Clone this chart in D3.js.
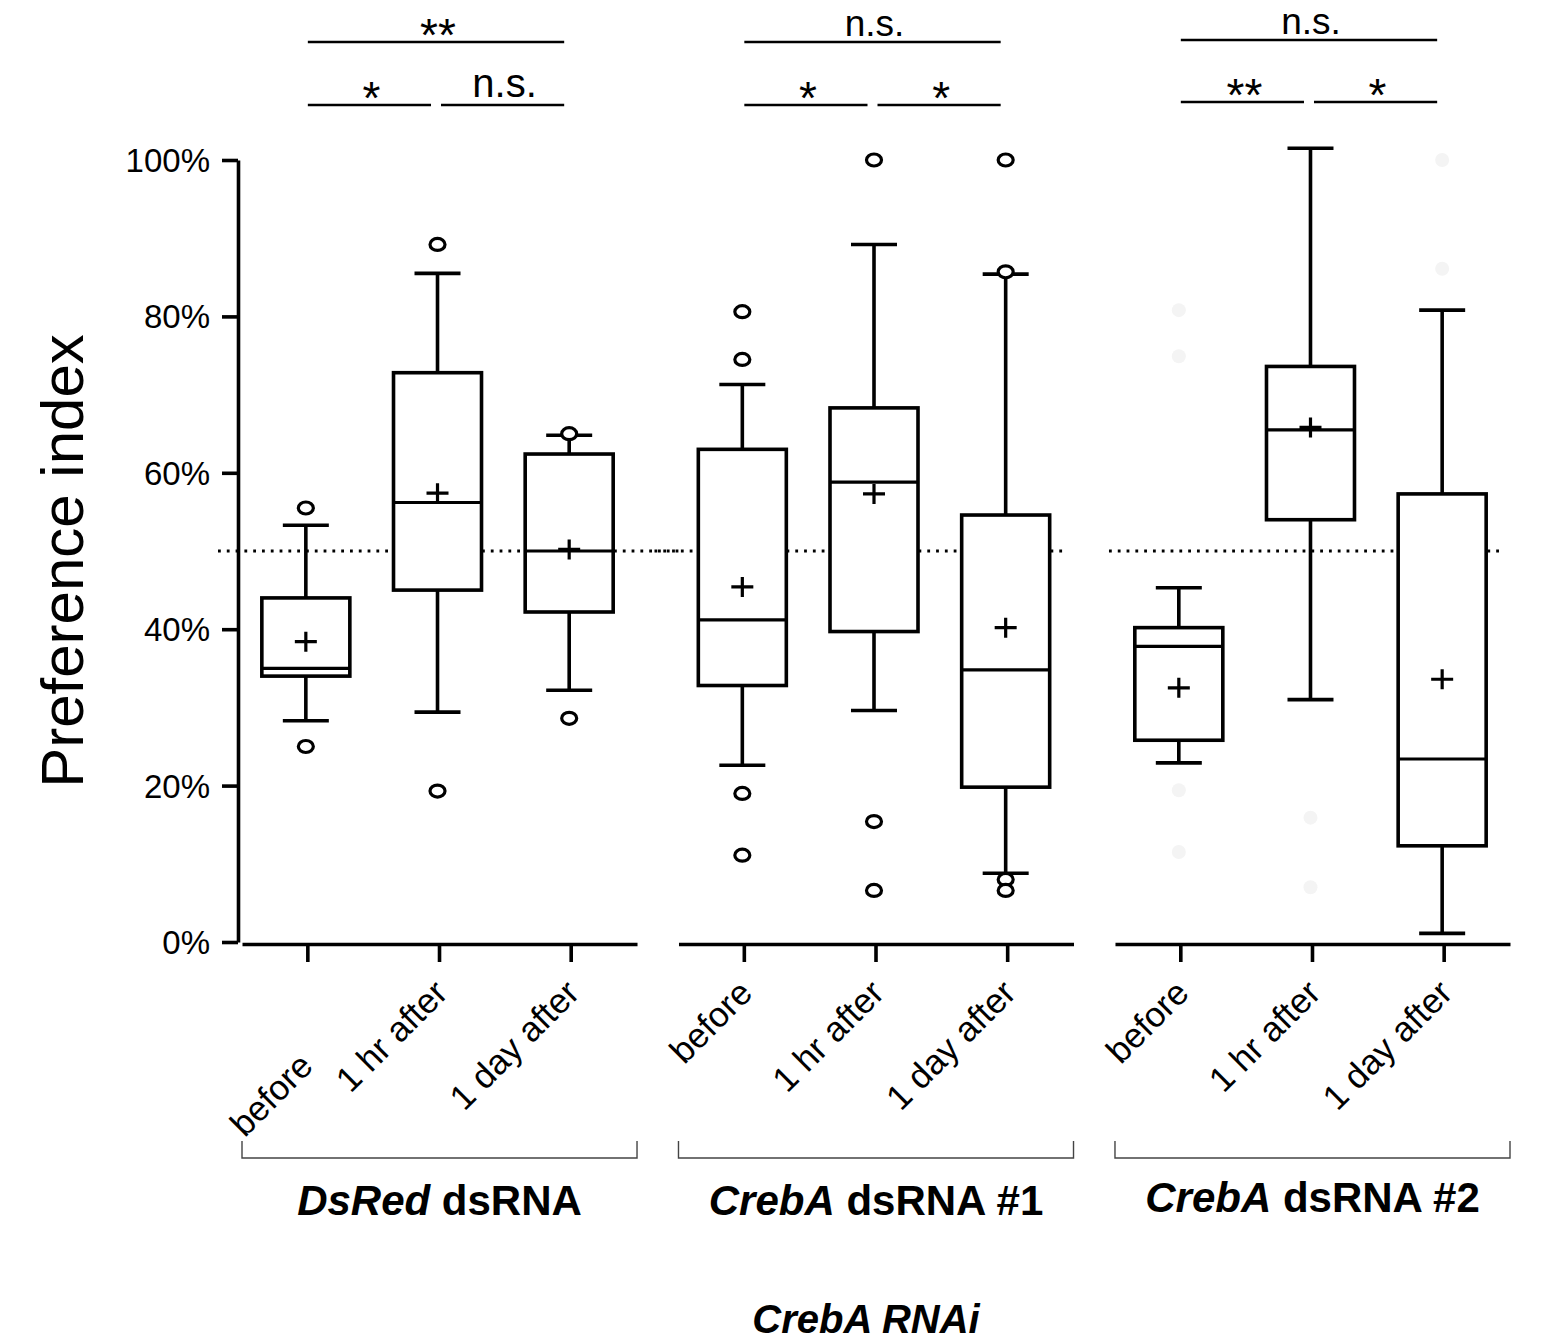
<!DOCTYPE html>
<html><head><meta charset="utf-8">
<script src="https://cdn.jsdelivr.net/npm/d3@7"></script>
<style>
html,body{margin:0;padding:0;background:#fff;}
text{font-family:"Liberation Sans",Arial,sans-serif;fill:#000;}
</style></head>
<body><svg id="chart" width="1541" height="1344"></svg>
<script>
// ---------------- data ----------------
const groupGene   = ["DsRed", "CrebA", "CrebA"];
const groupSuffix = [" dsRNA", " dsRNA #1", " dsRNA #2"];
const groups = groupGene.map((g,i)=>g+groupSuffix[i]);
const timepoints = ["before", "1 hr after", "1 day after"];
const yTicks = [0, 20, 40, 60, 80, 100];
const axisTitle = "Preference index";
const bottomTitle = "CrebA RNAi";

// values in percent; each row = one group, columns = timepoints
const whiskerLow  = [[28.3, 29.4, 32.2], [22.6, 29.6, 8.8],  [22.9, 31.0, 1.1]];
const q1          = [[34.0, 45.0, 42.2], [32.8, 39.7, 19.8], [25.8, 54.0, 12.3]];
const median      = [[35.0, 56.2, 50.0], [41.2, 58.8, 34.8], [37.8, 65.5, 23.4]];
const q3          = [[44.0, 72.8, 62.4], [63.0, 68.3, 54.6], [40.2, 73.6, 57.3]];
const whiskerHigh = [[53.3, 85.5, 64.8], [71.3, 89.2, 85.4], [45.3, 101.5, 80.8]];
const means       = [[38.4, 57.4, 50.2], [45.4, 57.3, 40.2], [32.5, 65.8, 33.6]];
const outliers = [
  [[55.5, 25.0], [89.2, 19.3], [65.0, 28.6]],
  [[80.6, 74.5, 19.0, 11.1], [100, 15.4, 6.6], [100, 85.7, 8.0, 6.6]],
  [[], [], []]
];
// nearly invisible (ghost) points in the third group
const faintPoints = [[80.8, 74.9, 19.4, 11.5], [15.9, 7.0], [100, 86.1]];
const chanceLevel = 50;
const sigTop   = ["**", "n.s.", "n.s."];
const sigLeft  = ["*", "*", "**"];
const sigRight = ["n.s.", "*", "*"];

// ---------------- layout ----------------
const svg = d3.select("#chart");
const y = d3.scaleLinear().domain([0, 100]).range([942, 160]);
const gx = d3.scaleBand().domain(groups).range([242, 1510]).paddingInner(0.095);
const xs = d3.scaleBand().domain(timepoints).range([0, gx.bandwidth()]);
const cx = (gi, ti) => gx(groups[gi]) + xs(timepoints[ti]) + xs.bandwidth()/2;
const axisY = 944;
const boxW = 88, capW = 46, SW = 3.6;

// dotted chance line
const dotExt = [[-24, 438], [-24, 388], [-6, 387]];
groups.forEach((g, gi) => {
  svg.append("line")
    .attr("x1", gx(g) + dotExt[gi][0]).attr("x2", gx(g) + dotExt[gi][1])
    .attr("y1", y(chanceLevel)).attr("y2", y(chanceLevel))
    .attr("stroke", "#000").attr("stroke-width", 2.8)
    .attr("stroke-dasharray", "2.8,6");
});

// y axis
const yAxis = svg.append("g").attr("transform", "translate(238,0)")
  .call(d3.axisLeft(y).tickValues(yTicks).tickFormat(d => d + "%")
        .tickSize(16).tickPadding(12).tickSizeOuter(0));
yAxis.select(".domain").attr("stroke-width", SW).attr("stroke", "#000");
yAxis.selectAll(".tick line").attr("stroke-width", SW).attr("stroke", "#000");
yAxis.selectAll(".tick text").attr("font-size", 33).attr("font-family", "Liberation Sans, Arial, sans-serif").attr("dy", "0.35em");

svg.append("text")
  .attr("transform", `translate(83,${(y(0)+y(100))/2 + 10}) rotate(-90)`)
  .attr("text-anchor", "middle").attr("font-size", 60).text(axisTitle);

// x axes per group
groups.forEach((g, gi) => {
  const ax = svg.append("g").attr("transform", `translate(${gx(g)},${axisY})`)
    .call(d3.axisBottom(xs).tickSize(18).tickSizeOuter(0).tickFormat(""));
  ax.select(".domain").attr("stroke-width", SW).attr("stroke", "#000");
  ax.selectAll(".tick line").attr("stroke-width", SW).attr("stroke", "#000");

  timepoints.forEach((t, ti) => {
    const x = cx(gi, ti);
    let ex = x + 10, ey = 995;
    if (gi === 0 && ti === 0) { ex = x + 7; ey = 1068; }
    svg.append("text")
      .attr("transform", `translate(${ex},${ey}) rotate(-45)`)
      .attr("text-anchor", "end").attr("font-size", 35).text(t);
  });

  // group bracket
  const bx0 = gx(g), bx1 = gx(g) + gx.bandwidth(), by = 1158;
  svg.append("path")
    .attr("d", `M${bx0},${by-17}V${by}H${bx1}V${by-17}`)
    .attr("fill", "none").attr("stroke", "#444").attr("stroke-width", 1.4);

  // group label
  const lbl = svg.append("text")
    .attr("x", gx(g) + gx.bandwidth()/2).attr("y", gi === 2 ? 1212 : 1215)
    .attr("text-anchor", "middle").attr("font-size", 42).attr("font-weight", "bold");
  lbl.append("tspan").attr("font-style", "italic").text(groupGene[gi]);
  lbl.append("tspan").text(groupSuffix[gi]);

  // boxes
  timepoints.forEach((t, ti) => {
    const x = cx(gi, ti) - 2;
    const gg = svg.append("g").attr("stroke", "#000").attr("stroke-width", SW).attr("fill", "none");
    gg.append("line").attr("x1", x).attr("x2", x)
      .attr("y1", y(whiskerHigh[gi][ti])).attr("y2", y(q3[gi][ti]));
    gg.append("line").attr("x1", x).attr("x2", x)
      .attr("y1", y(q1[gi][ti])).attr("y2", y(whiskerLow[gi][ti]));
    gg.append("line").attr("x1", x - capW/2).attr("x2", x + capW/2)
      .attr("y1", y(whiskerHigh[gi][ti])).attr("y2", y(whiskerHigh[gi][ti]));
    gg.append("line").attr("x1", x - capW/2).attr("x2", x + capW/2)
      .attr("y1", y(whiskerLow[gi][ti])).attr("y2", y(whiskerLow[gi][ti]));
    gg.append("rect").attr("x", x - boxW/2).attr("width", boxW)
      .attr("y", y(q3[gi][ti])).attr("height", y(q1[gi][ti]) - y(q3[gi][ti]))
      .attr("fill", "#fff");
    gg.append("line").attr("x1", x - boxW/2).attr("x2", x + boxW/2)
      .attr("y1", y(median[gi][ti])).attr("y2", y(median[gi][ti]))
      .attr("stroke-width", 3.2);
    const my = y(means[gi][ti]);
    gg.append("path").attr("d", `M${x-11},${my}H${x+11}M${x},${my-10}V${my+10}`)
      .attr("stroke-width", 3.2);
    outliers[gi][ti].forEach(v => {
      gg.append("ellipse").attr("cx", x).attr("cy", y(v)).attr("rx", 7.5).attr("ry", 6)
        .attr("fill", "#fff").attr("stroke-width", 3.2);
    });
    if (gi === 2) faintPoints[ti].forEach(v => {
      svg.append("circle").attr("cx", x).attr("cy", y(v)).attr("r", 7)
        .attr("fill", "#f4f4f4");
    });
  });

  // significance annotations
  const xa = cx(gi, 0), xc = cx(gi, 2) - 7;
  const mid = (xa + xc) / 2;
  const topY = gi === 2 ? 40 : 42, lowY = gi === 2 ? 102 : 105;
  const sg = svg.append("g").attr("stroke", "#000").attr("stroke-width", 2.6);
  sg.append("line").attr("x1", xa).attr("x2", xc).attr("y1", topY).attr("y2", topY);
  sg.append("line").attr("x1", xa).attr("x2", mid - 5).attr("y1", lowY).attr("y2", lowY);
  sg.append("line").attr("x1", mid + 5).attr("x2", xc).attr("y1", lowY).attr("y2", lowY);

  const sigText = (txt, x, lineY, isTop) => {
    const isStar = txt.indexOf("*") >= 0;
    svg.append("text").attr("x", x).attr("text-anchor", "middle")
      .attr("y", isStar ? lineY - 10 : (isTop ? lineY - 6 : lineY - 8))
      .attr("font-size", isStar ? 46 : (isTop ? 37 : 40))
      .attr("dy", isStar ? "0.42em" : 0)
      .text(txt);
  };
  sigText(sigTop[gi], (xa + xc) / 2 + 2, topY, true);
  sigText(sigLeft[gi], (xa + mid - 5) / 2 + 2, lowY, false);
  sigText(sigRight[gi], (mid + 5 + xc) / 2 + 2, lowY, false);
});

svg.append("text")
  .attr("x", (gx(groups[0]) + gx(groups[2]) + gx.bandwidth()) / 2 - 10).attr("y", 1333)
  .attr("text-anchor", "middle").attr("font-size", 40)
  .attr("font-weight", "bold").attr("font-style", "italic").text(bottomTitle);
</script></body></html>
